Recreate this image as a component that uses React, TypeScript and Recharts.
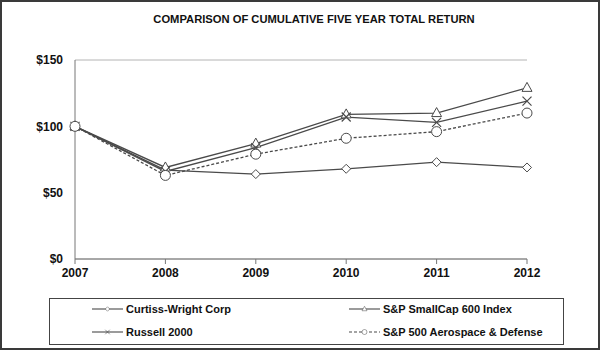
import { LineChart, Line, XAxis, YAxis, CartesianGrid } from "recharts";

const years = ["2007", "2008", "2009", "2010", "2011", "2012"];
const curtissWright = [100, 67, 64, 68, 73, 69];
const smallCap600 = [100, 69, 87, 109, 110, 129];
const russell2000 = [100, 66, 84, 107, 103, 119];
const aeroDefense = [100, 63, 79, 91, 96, 110];
const yTicks = [0, 50, 100, 150];

const series = [
  { key: "cw", name: "Curtiss-Wright Corp", values: curtissWright, marker: "diamond", dash: undefined },
  { key: "sc", name: "S&P SmallCap 600 Index", values: smallCap600, marker: "triangle", dash: undefined },
  { key: "ru", name: "Russell 2000", values: russell2000, marker: "cross", dash: undefined },
  { key: "ad", name: "S&P 500 Aerospace & Defense", values: aeroDefense, marker: "circle", dash: "3 2" },
];

const data = years.map((year, i) => {
  const row: any = { year };
  series.forEach((s) => (row[s.key] = s.values[i]));
  return row;
});

const LINE = "#4a4a4a";
const AXIS = "#777";
const FONT = "'Liberation Sans', Arial, sans-serif";

function Marker({ type, cx, cy }: { type: string; cx: number; cy: number }) {
  if (type === "diamond")
    return (
      <path
        d={`M${cx},${cy - 4.5}L${cx + 4.5},${cy}L${cx},${cy + 4.5}L${cx - 4.5},${cy}Z`}
        fill="#fff"
        stroke={LINE}
        strokeWidth={1}
      />
    );
  if (type === "triangle")
    return (
      <path
        d={`M${cx},${cy - 5.5}L${cx + 5},${cy + 3.5}L${cx - 5},${cy + 3.5}Z`}
        fill="#fff"
        stroke={LINE}
        strokeWidth={1}
      />
    );
  if (type === "cross")
    return (
      <path
        d={`M${cx - 4.5},${cy - 4.5}L${cx + 4.5},${cy + 4.5}M${cx + 4.5},${cy - 4.5}L${cx - 4.5},${cy + 4.5}`}
        stroke={LINE}
        strokeWidth={1.2}
      />
    );
  return <circle cx={cx} cy={cy} r={5} fill="#fff" stroke={LINE} strokeWidth={1} />;
}

// legend drawn as plain html under the chart
const LegendBox = () => (
  <div
    style={{
      position: "absolute",
      left: 47,
      top: 296,
      width: 515,
      height: 47,
      border: "1px solid #444",
      boxSizing: "border-box",
      fontFamily: FONT,
      fontSize: 11,
      fontWeight: "bold",
      color: "#111",
    }}
  >
    {series.map((s, i) => (
      <div
        key={s.key}
        style={{
          position: "absolute",
          left: i % 2 === 0 ? 42 : 299,
          top: i < 2 ? 3 : 26,
          display: "flex",
          alignItems: "center",
          height: 14,
        }}
      >
        <svg width={31} height={14} style={{ marginRight: 3 }}>
          <line x1={0} y1={7} x2={31} y2={7} stroke={LINE} strokeWidth={1.1} strokeDasharray={s.dash} />
          <g transform="translate(15.5,7) scale(0.5) translate(-15.5,-7)">
            <Marker type={s.marker} cx={15.5} cy={7} />
          </g>
        </svg>
        <span>{s.name}</span>
      </div>
    ))}
  </div>
);

export default function App() {
  return (
    <div
      style={{
        position: "absolute",
        left: 0,
        top: 0,
        width: 600,
        height: 350,
        border: "2px solid #3a3a3a",
        boxSizing: "border-box",
        background: "#fff",
        overflow: "hidden",
      }}
    >
      <div
        style={{
          position: "absolute",
          top: 11,
          left: 0,
          width: "100%",
          boxSizing: "border-box",
          paddingLeft: 28,
          textAlign: "center",
          fontFamily: FONT,
          fontWeight: "bold",
          fontSize: 11.2,
          color: "#111",
        }}
      >
        COMPARISON OF CUMULATIVE FIVE YEAR TOTAL RETURN
      </div>
      <div style={{ position: "absolute", left: -2, top: -2 }}>
        <LineChart width={600} height={350} data={data} margin={{ top: 60, right: 73, bottom: 61, left: 0 }}>
          <CartesianGrid vertical={false} stroke="#b4b4b4" strokeWidth={1} />
          <XAxis
            dataKey="year"
            stroke={AXIS}
            tickSize={5}
            tickMargin={4}
            height={30}
            tick={{ fill: "#111", fontFamily: FONT, fontWeight: "bold", fontSize: 12 }}
            interval={0}
          />
          <YAxis
            yAxisId="left"
            domain={[0, 150]}
            ticks={yTicks}
            width={75}
            stroke={AXIS}
            tickLine={false}
            tickSize={10}
            tickMargin={2}
            tickFormatter={(v) => `$${v}`}
            tick={{ fill: "#111", fontFamily: FONT, fontWeight: "bold", fontSize: 12 }}
          />
          <YAxis yAxisId="right" orientation="right" domain={[0, 150]} width={0} tick={false} tickLine={false} stroke={AXIS} />
          {series.map((s) => (
            <Line
              key={s.key}
              yAxisId="left"
              dataKey={s.key}
              name={s.name}
              type="linear"
              stroke={LINE}
              strokeWidth={1.3}
              strokeDasharray={s.dash}
              isAnimationActive={false}
              dot={(p: any) => <Marker key={`${s.key}-${p.index}`} type={s.marker} cx={p.cx} cy={p.cy} />}
            />
          ))}
        </LineChart>
      </div>
      <LegendBox />
    </div>
  );
}
